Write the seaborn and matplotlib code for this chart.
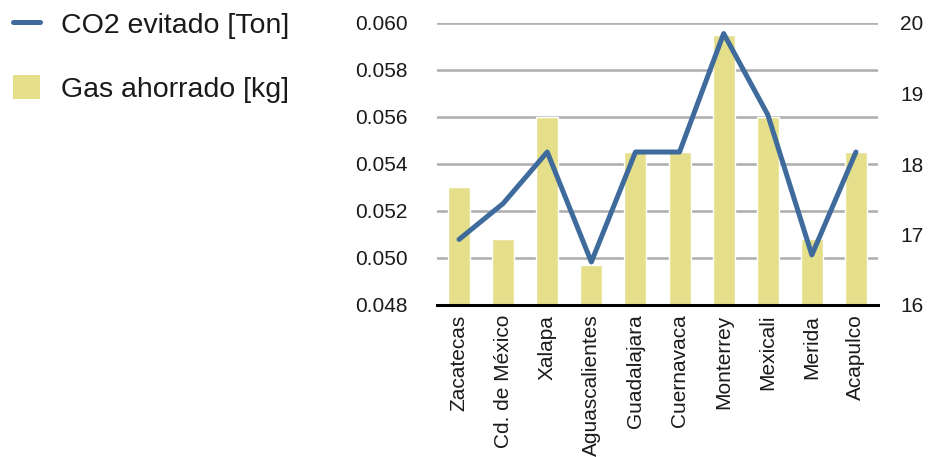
import matplotlib
matplotlib.use("Agg")
import matplotlib.pyplot as plt
from matplotlib.lines import Line2D
from matplotlib.patches import Patch
import seaborn as sns

cities = ["Zacatecas", "Cd. de México", "Xalapa", "Aguascalientes", "Guadalajara",
          "Cuernavaca", "Monterrey", "Mexicali", "Merida", "Acapulco"]
gas_kg = [0.0530, 0.0508, 0.0560, 0.0497, 0.0545, 0.0545, 0.0595, 0.0560, 0.0508, 0.0545]
co2_ton = [16.93, 17.44, 18.17, 16.61, 18.17, 18.17, 19.85, 18.70, 16.71, 18.17]
left_ticks = [0.048, 0.050, 0.052, 0.054, 0.056, 0.058, 0.060]
right_ticks = [16, 17, 18, 19, 20]

bar_color = "#e5df8c"
line_color = "#3e6b9c"
grid_color = "#b0b0b0"
text_color = "#1a1a1a"

sns.set_style("white")
plt.rcParams["font.family"] = ["Liberation Sans", "DejaVu Sans"]

fig = plt.figure(figsize=(9.31, 4.57), dpi=100)
ax = fig.add_axes([437 / 931, 1 - 305 / 457, (878 - 437) / 931, (305 - 23) / 457])

sns.barplot(x=cities, y=gas_kg, color=bar_color, saturation=1, width=0.5, ax=ax, zorder=1)
ax.set_ylim(0.048, 0.060)
ax.set_yticks(left_ticks)
ax.set_yticklabels([f"{v:.3f}" for v in left_ticks])
ax.yaxis.grid(True, color=grid_color, linewidth=1.9, zorder=0)
ax.set_axisbelow(True)
ax.set_xlim(-0.5, len(cities) - 0.5)

ax2 = ax.twinx()
sns.pointplot(x=cities, y=co2_ton, color=line_color, markers="", linestyles="-",
              errorbar=None, ax=ax2, linewidth=3.6)
ax2.set_ylim(16, 20)
ax2.set_yticks(right_ticks)
ax2.set_yticklabels([str(v) for v in right_ticks])
ax2.set_xlim(-0.5, len(cities) - 0.5)

for a in (ax, ax2):
    for side in ("top", "left", "right", "bottom"):
        a.spines[side].set_visible(False)
    a.set_xlabel("")
    a.set_ylabel("")
ax.spines["bottom"].set_visible(True)
ax.spines["bottom"].set_color("black")
ax.spines["bottom"].set_linewidth(2.2)
ax.spines["bottom"].set_zorder(5)

ax.tick_params(axis="y", length=0, pad=21, labelsize=15, labelcolor=text_color)
ax2.tick_params(axis="y", length=0, pad=16, labelsize=15, labelcolor=text_color)
ax.tick_params(axis="x", length=0, pad=7, labelsize=15, labelcolor=text_color)
ax.set_xticks(range(len(cities)))
ax.set_xticklabels(cities, rotation=90, va="top", ha="center")
ax2.tick_params(axis="x", length=0)

handles = [Line2D([], [], color=line_color, linewidth=3.6),
           Patch(facecolor=bar_color, edgecolor="none")]
fig.legend(handles, ["CO2 evitado [Ton]", "Gas ahorrado [kg]"],
           loc="upper left", bbox_to_anchor=(13 / 931, 1 - 11 / 457), frameon=False,
           fontsize=20.5, handlelength=0.95, handleheight=0.95, handletextpad=0.75,
           labelspacing=1.25, borderpad=0, borderaxespad=0, labelcolor=text_color)

fig.savefig("out.png", dpi=100)
